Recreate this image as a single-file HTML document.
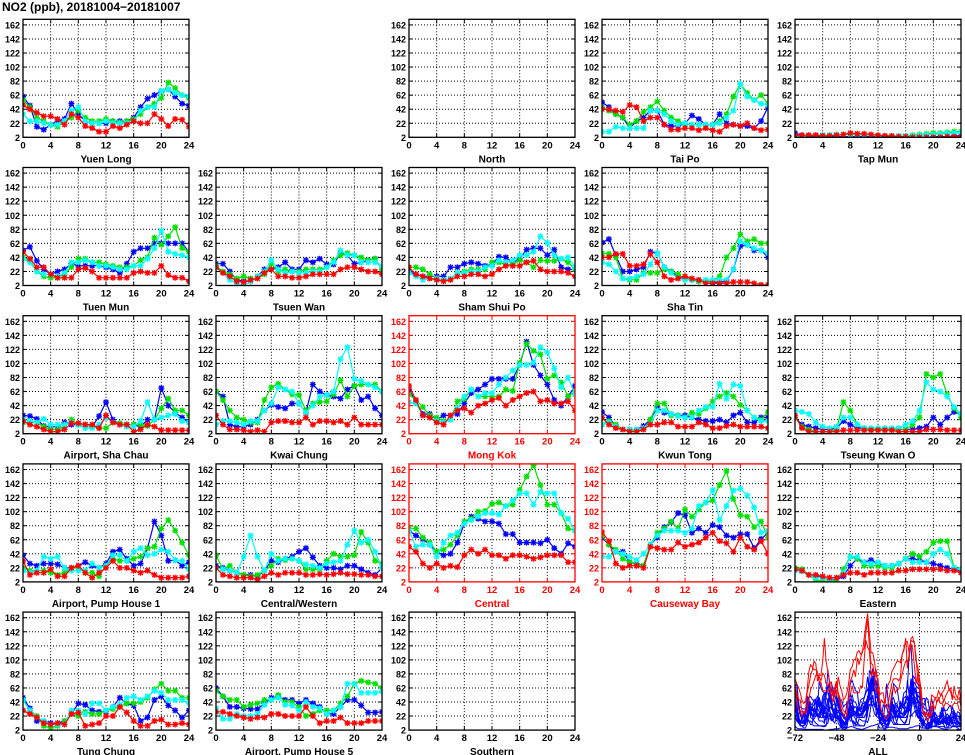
<!DOCTYPE html>
<html><head><meta charset="utf-8">
<style>
html,body{margin:0;padding:0;background:#fff;}
svg{display:block;}
text{font-family:"Liberation Sans",sans-serif;font-weight:bold;}
</style></head>
<body>
<svg id="chart" width="965" height="755" viewBox="0 0 965 755" xmlns="http://www.w3.org/2000/svg">
<text x="2" y="11" font-size="12" fill="#000">NO2 (ppb), 20181004−20181007</text>
</svg>
<script>
// y-axis ticks and x ticks
const yTicks = [2,22,42,62,82,102,122,142,162];
const xTicks = [0,4,8,12,16,20,24];
const allTicks = [-72,-48,-24,0,24];
const hours = [0,1,2,3,4,5,6,7,8,9,10,11,12,13,14,15,16,17,18,19,20,21,22,23,24];
// series order: day1 (blue), day2 (green), day3 (cyan), day4 (red)
const seriesColors = ['#0000ff','#00e000','#00ffff','#ff0000'];

const stationNames = ['Yuen Long','North','Tai Po','Tap Mun','Tuen Mun','Tsuen Wan','Sham Shui Po','Sha Tin','Airport, Sha Chau','Kwai Chung','Mong Kok','Kwun Tong','Tseung Kwan O','Airport, Pump House 1','Central/Western','Central','Causeway Bay','Eastern','Tung Chung','Airport, Pump House 5','Southern'];
const stationRow = [0,0,0,0,1,1,1,1,2,2,2,2,2,3,3,3,3,3,4,4,4];
const stationCol = [0,2,3,4,0,1,2,3,0,1,2,3,4,0,1,2,3,4,0,1,2];
const roadside = ['Mong Kok','Central','Causeway Bay'];

const yuenLong = [
[60,47,17,13,20,25,28,50,35,25,22,22,22,25,25,25,30,45,57,62,68,70,60,50,47],
[55,45,30,25,20,17,25,30,40,30,25,25,28,25,23,25,28,35,45,50,58,80,72,62,58],
[35,25,25,22,20,20,25,40,45,25,22,22,25,22,22,22,25,40,45,45,68,70,65,62,60],
[48,42,37,32,32,28,20,35,30,18,15,10,10,18,15,20,25,22,22,35,28,18,28,27,17]];
const north = [];
const taiPo = [
[52,45,35,30,15,25,30,40,40,20,18,18,22,33,28,20,20,35,22,20,18,18,15,25,45],
[45,40,35,30,20,25,38,45,53,40,30,25,20,20,20,20,20,25,35,60,78,65,55,62,50],
[10,10,17,15,15,15,15,40,40,35,25,20,22,20,20,20,20,22,30,40,78,60,55,50,48],
[42,42,40,38,48,45,25,30,30,20,13,13,15,15,12,15,12,10,18,20,18,22,15,12,13]];
const tapMun = [
[8,5,4,4,4,3,3,3,3,3,3,3,3,3,3,3,3,2,2,2,3,3,3,4,4],
[4,4,5,5,5,5,5,6,7,7,6,5,4,4,3,3,4,5,6,7,8,8,9,10,10],
[4,5,5,5,5,5,6,6,6,6,5,5,4,4,4,4,4,4,5,6,6,7,8,8,9],
[5,5,5,5,4,4,5,6,8,7,7,6,5,4,4,3,3,2,2,2,2,2,3,3,3]];
const tuenMun = [
[52,57,37,25,18,22,25,33,30,30,30,30,28,25,20,33,50,55,55,62,62,62,62,62,50],
[42,38,22,15,13,13,18,28,40,40,35,35,32,30,28,28,30,38,42,70,60,72,85,55,50],
[40,35,22,18,18,15,20,35,35,38,35,30,30,28,25,25,30,30,40,55,80,50,47,45,42],
[50,40,28,28,18,13,13,13,25,27,22,13,13,13,13,13,20,22,20,20,30,17,13,13,8]];
const tsuenWan = [
[33,33,22,10,8,8,15,25,25,28,35,25,25,38,35,40,32,32,48,45,33,35,38,40,25],
[30,22,18,12,15,12,12,18,33,22,25,22,22,25,25,25,28,38,45,48,45,42,38,40,25],
[28,20,10,5,2,8,15,22,38,25,20,22,20,20,22,22,28,35,52,45,45,35,35,35,30],
[28,20,15,8,7,10,12,20,25,15,15,13,13,15,18,18,18,18,25,28,28,25,22,22,18]];
const shamShuiPo = [
[22,18,15,15,15,15,28,28,33,35,33,30,32,43,42,35,40,53,55,55,45,53,28,25,25],
[28,28,25,18,12,10,12,20,22,25,25,25,35,35,32,32,38,35,28,38,37,37,40,35,25],
[20,15,10,12,12,10,12,20,20,22,22,28,30,38,35,38,45,45,50,72,63,45,40,42,28],
[28,18,15,12,10,8,10,15,15,18,18,15,18,25,30,30,30,35,37,25,22,22,22,20,15]];
const shaTin = [
[63,68,45,22,22,25,28,50,48,28,22,15,12,10,8,8,7,7,8,25,58,60,52,52,42],
[48,47,42,12,10,10,20,20,20,25,22,18,12,10,8,8,8,15,42,55,75,65,68,62,62],
[35,32,22,12,12,15,18,32,48,28,20,12,10,10,10,10,10,10,10,25,65,60,55,52,48],
[42,42,47,47,30,30,32,47,35,15,10,12,15,12,10,5,5,5,5,7,7,7,5,3,3]];
const airportShaChau = [
[28,27,23,13,12,12,18,15,15,15,12,27,47,22,15,15,15,12,22,22,67,42,32,25,18],
[18,18,18,12,8,8,12,22,15,15,12,10,10,18,17,15,15,15,13,22,38,52,35,35,28],
[22,20,18,23,15,15,15,18,15,10,10,15,25,18,15,12,12,20,47,22,25,28,30,20,18],
[20,15,12,8,5,5,8,17,17,15,15,10,28,18,15,15,5,8,15,12,7,7,7,7,7]];
const kwaiChung = [
[62,55,15,12,12,15,22,35,43,40,38,45,45,32,72,62,57,55,52,65,70,50,55,38,28],
[62,50,35,25,22,18,18,50,68,73,65,58,57,35,45,47,48,58,78,55,70,72,72,72,62],
[15,20,20,18,15,20,20,35,45,68,65,62,45,32,42,55,57,62,108,125,80,77,72,68,62],
[28,15,8,8,7,5,7,5,18,20,20,18,18,25,15,20,20,18,20,15,25,15,15,15,15]];
const mongKok = [
[65,47,30,30,22,28,28,30,45,60,65,72,80,80,80,80,100,133,100,85,72,50,42,55,70],
[58,50,40,28,25,20,22,48,52,65,55,55,55,55,65,63,103,130,120,115,80,85,75,55,62],
[47,45,28,25,20,18,22,38,55,65,55,60,60,72,82,92,100,100,103,125,118,95,68,82,58],
[70,50,28,25,18,15,28,35,38,32,42,45,50,53,42,50,55,60,62,48,50,45,45,48,35]];
const kwunTong = [
[33,25,13,8,8,8,13,22,40,32,30,28,28,25,22,20,20,22,18,28,32,18,18,25,25],
[15,20,15,8,8,5,8,22,45,45,28,28,25,32,30,38,48,55,60,55,43,35,25,22,33],
[15,18,12,8,8,8,10,15,35,35,30,27,25,25,35,40,40,73,52,72,70,35,25,20,20],
[25,15,10,8,5,5,8,15,15,18,18,12,12,12,18,15,10,10,13,15,12,12,12,12,10]];
const tseungKwanO = [
[25,15,12,10,8,8,10,20,15,10,10,8,8,8,8,8,8,8,10,12,25,15,25,33,30],
[25,12,8,5,5,5,8,47,35,15,8,8,8,8,8,8,8,15,25,87,82,87,58,38,25],
[35,33,30,18,12,10,12,25,25,15,10,10,10,10,10,10,15,20,35,75,65,62,55,40,30],
[28,10,5,5,5,5,5,7,7,7,7,7,7,7,7,5,5,5,5,8,8,8,7,7,7]];
const airportPH1 = [
[40,28,25,28,28,27,22,22,25,30,25,22,28,45,48,35,25,28,50,88,68,32,33,25,30],
[22,18,18,18,15,12,15,22,22,15,15,10,25,35,32,32,35,38,50,52,78,90,75,58,40],
[18,15,18,38,35,38,22,18,18,18,28,22,25,40,40,32,45,50,40,42,48,45,33,32,20],
[32,12,15,15,20,10,10,22,25,15,8,15,22,32,22,22,18,15,18,12,8,8,8,8,10]];
const centralWestern = [
[25,22,18,15,12,12,10,18,32,30,35,38,45,50,37,25,22,22,20,25,25,20,15,12,22],
[40,20,25,15,12,10,12,18,25,35,33,35,32,20,20,20,32,42,38,38,40,73,58,32,28],
[22,20,18,15,38,68,38,18,42,32,35,35,32,27,25,22,28,30,32,55,75,58,62,45,22],
[22,12,10,8,8,8,5,10,15,12,15,15,15,12,12,13,12,13,15,13,13,12,12,10,10]];
const central = [
[75,68,63,55,45,40,42,58,85,95,92,88,88,85,70,70,58,58,58,57,62,50,42,57,52],
[78,78,65,58,45,48,55,68,88,92,102,103,113,115,110,112,133,152,168,140,112,112,100,78,75],
[75,52,55,55,38,58,68,72,85,90,95,100,100,98,110,118,128,128,112,130,128,128,100,92,75],
[52,45,28,22,28,22,25,23,40,48,42,48,40,40,35,40,40,38,35,37,40,40,40,30,30]];
const causewayBay = [
[65,55,45,45,30,28,25,55,65,80,87,100,97,72,78,72,83,80,68,65,70,70,50,63,72],
[68,55,48,35,30,27,25,55,72,78,88,78,105,95,105,115,118,140,160,120,97,95,80,88,65],
[38,38,45,42,38,33,42,55,68,75,75,75,72,78,110,115,133,90,110,132,135,125,108,72,75],
[73,60,28,22,25,25,22,52,50,48,48,58,52,55,58,65,72,60,57,45,65,52,48,60,42]];
const eastern = [
[20,18,12,10,8,5,5,10,25,35,30,33,28,25,25,28,35,35,33,30,28,25,22,20,18],
[22,20,12,5,3,3,5,20,38,35,25,25,25,22,22,28,35,42,38,45,58,60,60,22,20],
[18,17,12,8,8,5,8,15,38,38,30,28,30,25,25,28,35,30,30,30,42,48,42,22,20],
[20,18,12,12,10,8,8,12,15,15,12,15,15,15,15,18,18,20,20,20,20,20,18,18,15]];
const tungChung = [
[48,33,15,15,12,12,15,25,40,38,30,28,28,35,48,40,37,15,20,45,50,37,30,20,30],
[45,30,22,8,5,8,15,25,22,28,25,25,30,32,35,40,40,42,48,60,68,58,58,48,48],
[45,30,20,15,10,10,10,30,30,25,40,40,30,35,38,48,50,45,50,58,55,45,45,45,40],
[30,25,20,12,10,12,10,25,27,8,10,12,22,22,35,27,15,8,8,15,17,10,10,12,10]];
const airportPH5 = [
[62,50,35,35,33,32,32,40,48,50,45,45,40,45,40,35,25,25,35,45,45,37,27,27,28],
[58,50,45,45,35,38,40,45,45,52,42,42,35,22,25,30,30,30,40,50,68,72,70,68,62],
[33,18,18,25,22,22,25,38,45,48,38,37,30,42,35,33,25,30,35,68,68,55,55,55,57],
[28,28,25,22,20,18,20,20,25,25,22,22,22,35,22,12,15,15,20,12,12,12,15,15,15]];
const southern = [];

const stationData = [yuenLong,north,taiPo,tapMun,tuenMun,tsuenWan,shamShuiPo,shaTin,airportShaChau,kwaiChung,mongKok,kwunTong,tseungKwanO,airportPH1,centralWestern,central,causewayBay,eastern,tungChung,airportPH5,southern];

const NS='http://www.w3.org/2000/svg';
const svg=document.getElementById('chart');
const PW=166, PH=118, YMIN=2, YMAX=170;
function panelLeft(c){return 23+193*c;}
function panelBottom(r){return 137.3+148.2*r;}
function mk(tag,attrs,parent){const e=document.createElementNS(NS,tag);for(const k in attrs)e.setAttribute(k,attrs[k]);(parent||svg).appendChild(e);return e;}
function slug(s){return s.toLowerCase().replace(/[^a-z0-9]+/g,'-').replace(/^-|-$/g,'');}

function drawPanel(name,r,c,xmin,xmax,xt,isRed,kind){
  const L=panelLeft(c), B=panelBottom(r), T=B-PH;
  const xs=v=>L+(v-xmin)/(xmax-xmin)*PW;
  const ys=v=>B-(v-YMIN)/(YMAX-YMIN)*PH;
  const col=isRed?'#ff0000':'#000';
  const g=mk('g',{});
  
  
  // grid
  yTicks.forEach(v=>{
    if(v>YMIN){const l=mk('line',{x1:L,x2:L+PW,y1:ys(v),y2:ys(v),stroke:'#000','stroke-width':1,'stroke-dasharray':'1,2'},g);
      
      }
    mk('line',{x1:L,x2:L+4,y1:ys(v),y2:ys(v),stroke:col},g);
    mk('line',{x1:L+PW-4,x2:L+PW,y1:ys(v),y2:ys(v),stroke:col},g);
    const t=mk('text',{x:L-3,y:ys(v)+3.5,'font-size':9,'text-anchor':'end',fill:col},g);
    t.textContent=v;
    
    
  });
  xt.forEach(v=>{
    if(v>xmin&&v<xmax){const l=mk('line',{x1:xs(v),x2:xs(v),y1:T,y2:B,stroke:'#000','stroke-width':1,'stroke-dasharray':'1,2'},g);
      
      }
    mk('line',{x1:xs(v),x2:xs(v),y1:B,y2:B-4,stroke:col},g);
    mk('line',{x1:xs(v),x2:xs(v),y1:T,y2:T+4,stroke:col},g);
    const t=mk('text',{x:xs(v),y:B+11,'font-size':9.5,'text-anchor':'middle',fill:col},g);
    t.textContent=(v<0?'−'+(-v):v);
    
    
  });
  const clip='clip-'+r+'-'+c;
  const cp=mk('clipPath',{id:clip},g);
  mk('rect',{x:L,y:T,width:PW,height:PH},cp);
  const plot=mk('g',{'clip-path':'url(#'+clip+')'},g);
  if(kind==='station'){
    const data=stationData[stationNames.indexOf(name)];
    data.forEach((ser,si)=>{
      const pts=ser.map((v,i)=>xs(hours[i]).toFixed(1)+','+ys(v).toFixed(1)).join(' ');
      const pl=mk('polyline',{points:pts,fill:'none',stroke:seriesColors[si],'stroke-width':1.2},plot);
      
      
      let d='';
      ser.forEach((v,i)=>{const x=xs(hours[i]),y=ys(v),s=3;
        d+=`M${x-s},${y}H${x+s}M${x},${y-s}V${y+s}M${x-2.3},${y-2.3}L${x+2.3},${y+2.3}M${x-2.3},${y+2.3}L${x+2.3},${y-2.3}`;});
      const m=mk('path',{d:d,stroke:seriesColors[si],'stroke-width':1.3,fill:'none'},plot);
      
      
    });
  } else if(kind==='all'){
    const order=[];
    stationNames.forEach((n,i)=>{if(roadside.indexOf(n)<0)order.push(i);});
    stationNames.forEach((n,i)=>{if(roadside.indexOf(n)>=0)order.push(i);});
    order.forEach(i=>{
      const data=stationData[i]; if(!data.length)return;
      const pts=[];
      data.forEach((ser,di)=>{ser.forEach((v,h)=>{if(di>0&&h===0)return;pts.push(xs(-72+24*di+hours[h]).toFixed(1)+','+ys(v).toFixed(1));});});
      const pl=mk('polyline',{points:pts.join(' '),fill:'none',stroke:roadside.indexOf(stationNames[i])>=0?'#ff0000':'#0000ff','stroke-width':1},plot);
      
      
    });
  }
  const fr=mk('rect',{x:L,y:T,width:PW,height:PH,fill:'none',stroke:col,'stroke-width':1.3},g);
  
  
  const lab=mk('text',{x:L+PW/2,y:B+25,'font-size':10,'text-anchor':'middle',fill:col},g);
  lab.textContent=name;
  
  
}
stationNames.forEach((n,i)=>drawPanel(n,stationRow[i],stationCol[i],0,24,xTicks,roadside.indexOf(n)>=0,'station'));
drawPanel('ALL',4,4,-72,24,allTicks,false,'all');
</script>
</body></html>
